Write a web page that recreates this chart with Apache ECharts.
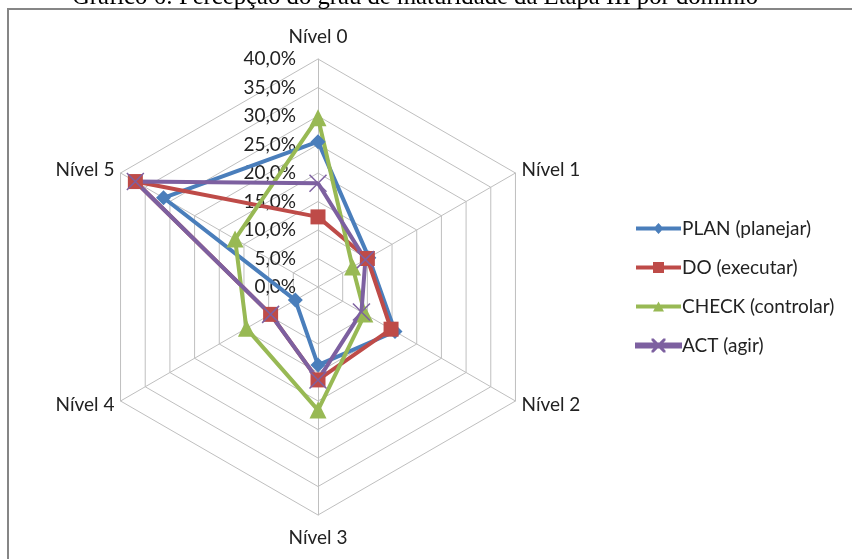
<!DOCTYPE html>
<html>
<head>
<meta charset="utf-8">
<script src="https://cdn.jsdelivr.net/npm/echarts@6/dist/echarts.min.js"></script>
<style>
html,body{margin:0;padding:0;background:#fff;}
#chart{width:852px;height:559px;}
</style>
</head>
<body>
<div id="chart"></div>
<script>
const titleText = 'Gráfico 6: Percepção do grau de maturidade da Etapa III por domínio';
const categories = ['Nível 0', 'Nível 1', 'Nível 2', 'Nível 3', 'Nível 4', 'Nível 5'];
const seriesNames = ['PLAN (planejar)', 'DO (executar)', 'CHECK (controlar)', 'ACT (agir)'];
const planValues = [25.5, 10.3, 15.6, 13.7, 4.6, 31.3];
const doValues = [12.3, 10.0, 14.8, 16.3, 9.6, 37.0];
const checkValues = [29.7, 7.0, 9.5, 21.6, 14.5, 16.8];
const actValues = [18.2, 9.6, 8.8, 16.3, 9.6, 37.0];
const axisMin = 0, axisMax = 40, axisStep = 5;

const colors = ['#4A7EBB', '#BE4B48', '#98B954', '#7D60A0'];
const symbols = ['diamond', 'rect', 'triangle', 'path://M0,0L10,10M10,0L0,10'];
const symbolSizes = [15, 15, 17, 17];
const valueLists = [planValues, doValues, checkValues, actValues];
const font = 'Lato, "Noto Sans", sans-serif';

// legend icons: line with marker, drawn in a 45 x 12 box
const bar = 'M0,4L45,4L45,8L0,8Z';
const legendIcons = [
  'path://' + bar + 'M22.5,0.5L27.5,6L22.5,11.5L17.5,6Z' + 'M22.5,0L22.5,0Z' + 'M22.5,12L22.5,12Z',
  'path://' + bar + 'M17,0.5L28,0.5L28,11.5L17,11.5Z' + 'M22.5,0L22.5,0Z' + 'M22.5,12L22.5,12Z',
  'path://' + bar + 'M22.5,1L28,11L17,11Z' + 'M22.5,0L22.5,0Z' + 'M22.5,12L22.5,12Z',
  'path://' + bar + 'M16.5,0L17.2,0L28.5,11.3L28.5,12L27.8,12L16.5,0.7Z' +
    'M28.5,0L28.5,0.7L17.2,12L16.5,12L16.5,11.3L27.8,0Z'
];

// clockwise order on screen: Nível 0 at top, then going right
const displayOrder = [0, 5, 4, 3, 2, 1];

const chart = echarts.init(document.getElementById('chart'));
const indicators = displayOrder.map((k, i) => {
  const o = { name: categories[k], min: axisMin, max: axisMax };
  if (i === 0) {
    o.axisLabel = {
      show: true,
      fontFamily: font,
      fontSize: 19,
      color: '#222',
      margin: 22,
      formatter: v => v.toFixed(1).replace('.', ',') + '%'
    };
  }
  return o;
});

chart.setOption({
  animation: false,
  backgroundColor: '#fff',
  graphic: [
    { type: 'polyline', shape: { points: [[8, 570], [8, 9], [860, 9]] },
      style: { stroke: '#868686', lineWidth: 2, fill: null }, z: 0 },
    { type: 'text', left: 72, top: -15,
      style: { text: titleText, font: '24.7px "Liberation Serif", serif', fill: '#000' } }
  ],
  legend: {
    orient: 'vertical',
    left: 630,
    top: 214,
    itemWidth: 45,
    itemHeight: 12,
    itemGap: 20,
    textStyle: { fontFamily: font, fontSize: 19, color: '#222', padding: [0, 0, 0, -4] },
    data: seriesNames.map((n, i) => ({ name: n, icon: legendIcons[i] }))
  },
  radar: {
    center: [318, 287],
    radius: 228,
    startAngle: 90,
    splitNumber: (axisMax - axisMin) / axisStep,
    shape: 'polygon',
    indicator: indicators,
    axisName: { color: '#222', fontFamily: font, fontSize: 19, padding: [6, 0, 6, 0] },
    nameGap: 7,
    splitArea: { show: false },
    splitLine: { lineStyle: { color: '#BFBFBF', width: 1 } },
    axisLine: { lineStyle: { color: '#BFBFBF', width: 1 } },
    axisLabel: { show: false }
  },
  series: [{
    type: 'radar',
    data: valueLists.map((vals, i) => ({
      name: seriesNames[i],
      value: displayOrder.map(k => vals[k]),
      symbol: symbols[i],
      symbolSize: symbolSizes[i],
      lineStyle: { color: colors[i], width: 4 },
      itemStyle: i === 3
        ? { color: colors[i], borderColor: colors[i], borderWidth: 1.5 }
        : { color: colors[i], borderWidth: 0 }
    }))
  }]
});
</script>
</body>
</html>
